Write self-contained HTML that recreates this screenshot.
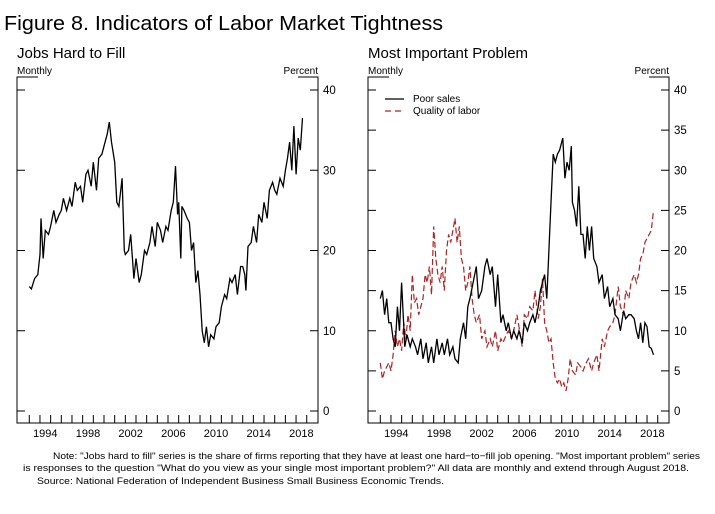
<!DOCTYPE html>
<html><head><meta charset="utf-8"><style>
body{margin:0;background:#fff;}
svg{display:block;font-family:"Liberation Sans",Arial,sans-serif;}
</style></head><body>
<svg id="c" width="715" height="514" viewBox="0 0 715 514">
<text x="4" y="30" font-size="20" textLength="439" lengthAdjust="spacingAndGlyphs">Figure 8.  Indicators of Labor Market Tightness</text>
<text x="17" y="58" font-size="15">Jobs Hard to Fill</text>
<text x="368" y="58" font-size="15">Most Important Problem</text>
<g id="L"></g>
<g id="R"></g>
<g font-size="9.6">
<text x="53" y="459" textLength="647" lengthAdjust="spacingAndGlyphs">Note:  "Jobs hard to fill" series is the share of firms reporting that they have at least one hard−to−fill job opening. "Most important problem" series</text>
<text x="23" y="471" textLength="666" lengthAdjust="spacingAndGlyphs">is responses to the question "What do you view as your single most important problem?"  All data are monthly and extend through August 2018.</text>
<text x="37" y="484" textLength="407" lengthAdjust="spacingAndGlyphs">Source:  National Federation of Independent Business Small Business Economic Trends.</text>
</g>
</svg>
<script>
const jobsT=[1993,1993.2,1993.5,1993.8,1994,1994.1,1994.3,1994.5,1994.8,1995,1995.3,1995.5,1995.8,1996,1996.2,1996.5,1996.8,1997,1997.3,1997.5,1997.8,1998,1998.3,1998.5,1998.8,1999,1999.3,1999.5,1999.8,2000,2000.3,2000.5,2000.7,2001,2001.2,2001.4,2001.7,2001.9,2002,2002.3,2002.5,2002.8,2003,2003.3,2003.5,2003.8,2004,2004.3,2004.5,2004.8,2005,2005.3,2005.5,2005.8,2006,2006.3,2006.5,2006.7,2006.9,2007,2007.2,2007.3,2007.5,2007.8,2008,2008.2,2008.4,2008.6,2008.8,2009,2009.2,2009.4,2009.6,2009.8,2010,2010.3,2010.5,2010.8,2011,2011.3,2011.5,2011.8,2012,2012.3,2012.5,2012.8,2013,2013.2,2013.3,2013.5,2013.8,2014,2014.3,2014.5,2014.8,2015,2015.3,2015.5,2015.8,2016,2016.2,2016.5,2016.8,2017,2017.2,2017.4,2017.6,2017.8,2018,2018.2,2018.4,2018.6];
const jobsV=[15.5,15.2,16.5,17,19.5,24,19,22.5,22,23,25,23.5,24.5,25,26.5,25,26.5,25.5,28.5,27.5,28,26,29.5,30,28,31,27.5,31.5,32,33,34.5,36,33.5,31,26,25.5,29,20,19.5,20,22,16.5,19,16,17,20,19.5,21,23,20.5,23.5,22.5,21,23,22.5,25,26,30.5,24.5,26,19,25.5,25,24,23.5,20,21,16,17.5,14.5,10,8.5,10.5,8,9.5,9,10.5,11,13,14.5,14,16.5,16,17,14.5,18,18,17,15,20.5,21,23,21,24.5,23.5,26,24,27.5,28.5,27.5,27,29,28,30,31.5,33.5,30,35.5,29.5,34,32.5,36.5,37.5];
const salesT=[1993,1993.2,1993.4,1993.6,1993.8,1994,1994.2,1994.4,1994.6,1994.8,1995,1995.3,1995.5,1995.8,1996,1996.3,1996.5,1996.8,1997,1997.3,1997.5,1997.8,1998,1998.3,1998.5,1998.8,1999,1999.3,1999.5,1999.8,2000,2000.3,2000.5,2000.8,2001,2001.2,2001.4,2001.7,2002,2002.2,2002.5,2002.8,2003,2003.3,2003.5,2003.8,2004,2004.3,2004.5,2004.8,2005,2005.3,2005.5,2005.8,2006,2006.3,2006.5,2006.8,2007,2007.3,2007.5,2007.8,2008,2008.2,2008.4,2008.6,2008.8,2009,2009.2,2009.4,2009.6,2009.8,2010,2010.1,2010.3,2010.5,2010.7,2010.9,2011,2011.2,2011.4,2011.6,2011.8,2012,2012.2,2012.4,2012.6,2012.8,2013,2013.3,2013.5,2013.8,2014,2014.3,2014.5,2014.8,2015,2015.3,2015.5,2015.8,2016,2016.3,2016.5,2016.8,2017,2017.2,2017.4,2017.6,2017.8,2018,2018.2,2018.4,2018.6];
const salesV=[14,15,12,14,11,11,9,8,13,10,16,8,9.5,8,9,8,7,9,6.5,8.5,6,8,6,9,7,8.5,7,9,7,8,6.5,6,9,11,9,13,14,16,18,14,15,18,19,17,18,13,17,11,12,10,11,9,10,9,10,8.5,11,10,11,12,11,13,15,16,17,14,20,26,32,31,32,32.5,33.5,34,29,31,30,33,26,25,23,28,22,22,19,23,20,23,19,18,16,17,14,15.5,13,14,12,11.5,10,12.5,11.5,12,12,11.5,10,9,11,8.5,11,10.5,8,7.8,7];
const laborT=[1993,1993.2,1993.4,1993.6,1993.8,1994,1994.2,1994.4,1994.6,1994.8,1995,1995.2,1995.4,1995.6,1995.8,1996,1996.2,1996.4,1996.6,1996.8,1997,1997.2,1997.4,1997.6,1997.8,1998,1998.2,1998.4,1998.6,1998.8,1999,1999.2,1999.4,1999.6,1999.8,2000,2000.2,2000.4,2000.6,2000.8,2001,2001.2,2001.4,2001.6,2001.8,2002,2002.3,2002.5,2002.8,2003,2003.3,2003.5,2003.8,2004,2004.3,2004.5,2004.8,2005,2005.3,2005.5,2005.8,2006,2006.3,2006.5,2006.8,2007,2007.3,2007.5,2007.8,2008,2008.2,2008.4,2008.6,2008.8,2009,2009.2,2009.4,2009.6,2009.8,2010,2010.2,2010.4,2010.6,2010.8,2011,2011.3,2011.5,2011.8,2012,2012.3,2012.5,2012.8,2013,2013.3,2013.5,2013.8,2014,2014.3,2014.5,2014.8,2015,2015.3,2015.5,2015.8,2016,2016.3,2016.5,2016.8,2017,2017.2,2017.4,2017.6,2017.8,2018,2018.2,2018.4,2018.6];
const laborV=[6,4,5,5.5,6,5,7,10,8,9,7.5,11,9,12,10,17,13.5,14,12,13,14,17,16,18,14.5,23,19,17,16,18,15,20,22,21,22.5,24,21,23,19,18,15,16,18,14,12,11,12,9,10,8,9,8,10,7.5,9,8.5,9.5,10,9,10,12,10.5,8,12,11.5,13,12.5,15,11.5,13,16.5,11,10,8.5,9,6,4,3.5,4,3,3.5,2.5,4,6.5,5,4.5,6,5.5,5,6,6.5,5,6,7,5,9,8,10,10.5,11,12,15.5,13,12,15,14,16,17,16,17,19,19.5,21,21.5,22,22.5,25];
const yearLabels=["1994","1998","2002","2006","2010","2014","2018"];
const leftYTicks=[0,10,20,30,40];
const rightYTicks=[0,5,10,15,20,25,30,35,40];

const NS="http://www.w3.org/2000/svg";
function mk(tag,attrs,parent){const e=document.createElementNS(NS,tag);for(const k in attrs)e.setAttribute(k,attrs[k]);parent.appendChild(e);return e;}
const Y0=411, PXU=8.025;
function yS(v){return Y0-v*PXU;}
function drawPanel(g,ox,yTicks){
  const bx0=17+ox,bx1=318+ox,by0=77,by1=423;
  const xS=t=>29.3+ox+(t-1993)*10.67;
  const frame=mk('path',{d:`M${bx0+21},${by0} H${bx0} V${by1} H${bx1} V${by0} H${bx1-20}`,fill:'none',stroke:'#000','stroke-width':1},g);
  
  
  const mt=mk('text',{x:bx0,y:74,'font-size':10},g);mt.textContent='Monthly';
  
  
  const pt=mk('text',{x:bx1,y:74,'font-size':10,'text-anchor':'end'},g);pt.textContent='Percent';
  
  
  yTicks.forEach(v=>{
    const y=yS(v);
    const t1=mk('line',{x1:bx0,x2:bx0+8,y1:y,y2:y,stroke:'#000'},g);
    
    
    const t2=mk('line',{x1:bx1-8,x2:bx1,y1:y,y2:y,stroke:'#000'},g);
    
    
    const l=mk('text',{x:bx1+5,y:y+4,'font-size':11.5},g);l.textContent=v;
    
    
  });
  for(let yr=1993;yr<=2019;yr++){
    const x=xS(yr);
    const t=mk('line',{x1:x,x2:x,y1:by1,y2:by1-8,stroke:'#000'},g);
    
    
  }
  yearLabels.forEach(s=>{
    const l=mk('text',{x:xS(+s+0.5),y:by1+14,'font-size':11,'text-anchor':'middle'},g);l.textContent=s;
    
    
  });
  return xS;
}
function line(g,xS,T,V,attrs,name){
  const d=T.map((t,i)=>(i?'L':'M')+xS(t).toFixed(1)+','+yS(V[i]).toFixed(1)).join('');
  const p=mk('path',Object.assign({d,fill:'none'},attrs),g);
  
  
}
const L=document.getElementById('L'),R=document.getElementById('R');
const xl=drawPanel(L,0,leftYTicks);
line(L,xl,jobsT,jobsV,{stroke:'#000','stroke-width':1.3},'jobs-hard-to-fill-line');
const xr=drawPanel(R,351,rightYTicks);
line(R,xr,laborT,laborV,{stroke:'#b22222','stroke-width':1.2,'stroke-dasharray':'6,3'},'quality-of-labor-line');
line(R,xr,salesT,salesV,{stroke:'#000','stroke-width':1.3},'poor-sales-line');
const lg=mk('g',{},R);


const a=mk('line',{x1:385,x2:404,y1:99,y2:99,stroke:'#000','stroke-width':1.2},lg);


const at=mk('text',{x:413,y:102,'font-size':10},lg);at.textContent='Poor sales';


const b=mk('line',{x1:385,x2:404,y1:111,y2:111,stroke:'#b22222','stroke-width':1.2,'stroke-dasharray':'6,4'},lg);


const bt=mk('text',{x:413,y:114,'font-size':10},lg);bt.textContent='Quality of labor';


</script>
</body></html>
